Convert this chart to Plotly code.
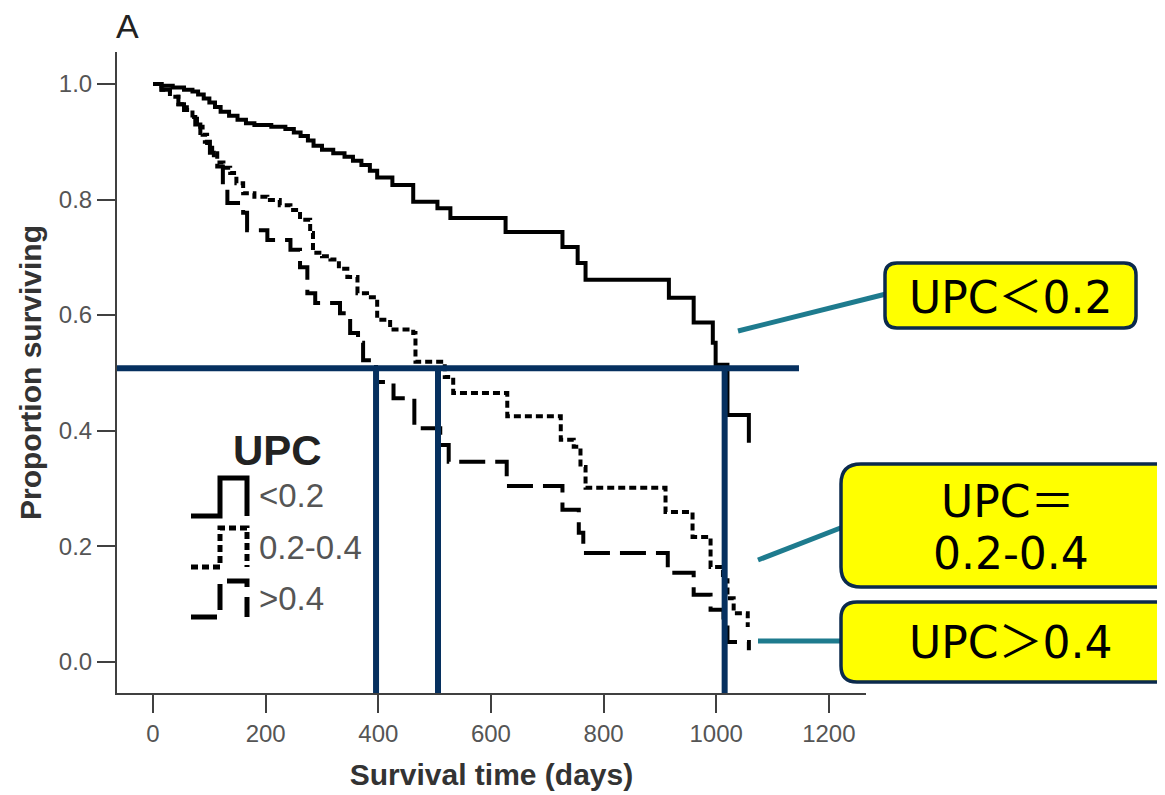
import plotly.graph_objects as go

# ---------------- data ----------------
t_low = [0, 15, 35, 55, 70, 80, 90, 100, 110, 120, 135, 150, 165, 180, 210, 235, 250, 262, 275, 285,
         300, 320, 340, 355, 370, 385, 398, 425, 462, 505, 528, 626, 727, 754, 768, 916, 960, 994,
         999, 1020, 1058]
s_low = [1.0, 0.997, 0.994, 0.99, 0.987, 0.982, 0.975, 0.968, 0.96, 0.952, 0.945, 0.938, 0.932, 0.929,
         0.926, 0.922, 0.916, 0.91, 0.902, 0.893, 0.886, 0.88, 0.874, 0.867, 0.86, 0.85, 0.838, 0.825,
         0.796, 0.785, 0.768, 0.744, 0.718, 0.69, 0.661, 0.63, 0.587, 0.552, 0.514, 0.427, 0.379]

t_mid = [0, 15, 30, 45, 60, 70, 78, 88, 96, 105, 114, 125, 137, 148, 160, 180, 203, 225, 244, 261,
         279, 284, 300, 315, 330, 345, 363, 380, 398, 421, 462, 466, 518, 533, 629, 724, 747, 759,
         768, 910, 958, 990, 1012, 1020, 1031, 1056]
s_mid = [1.0, 0.99, 0.978, 0.965, 0.955, 0.94, 0.926, 0.912, 0.898, 0.88, 0.864, 0.855, 0.846, 0.828,
         0.811, 0.805, 0.799, 0.79, 0.782, 0.765, 0.742, 0.708, 0.702, 0.696, 0.68, 0.666, 0.638,
         0.631, 0.592, 0.575, 0.569, 0.519, 0.493, 0.465, 0.425, 0.384, 0.372, 0.337, 0.301, 0.259,
         0.216, 0.164, 0.141, 0.11, 0.084, 0.06]

t_high = [0, 15, 30, 45, 55, 66, 75, 84, 92, 101, 108, 114, 124, 132, 160, 167, 203, 244, 261, 274,
          288, 332, 350, 364, 373, 396, 427, 464, 510, 525, 628, 727, 756, 764, 914, 960, 990, 1013,
          1020, 1058]
s_high = [1.0, 0.99, 0.978, 0.965, 0.955, 0.943, 0.93, 0.915, 0.9, 0.881, 0.87, 0.857, 0.822, 0.794,
          0.777, 0.747, 0.730, 0.713, 0.683, 0.638, 0.621, 0.603, 0.569, 0.552, 0.522, 0.484, 0.456,
          0.404, 0.375, 0.346, 0.304, 0.263, 0.223, 0.188, 0.154, 0.116, 0.09, 0.067, 0.034, 0.02]

median_level = 0.508
median_times = [396, 506, 1015]
median_line_end = 1147

x_ticks = [0, 200, 400, 600, 800, 1000, 1200]
y_ticks = [0.0, 0.2, 0.4, 0.6, 0.8, 1.0]
legend_labels = ["<0.2", "0.2-0.4", ">0.4"]
box_labels = ["UPC\uff1c0.2", "UPC\uff1d", "0.2-0.4", "UPC\uff1e0.4"]

# ---------------- layout geometry ----------------
OFF = 8  # page body margin of the browser
W, H = 1165 - OFF, 795 - OFF
L, R, T, B = 117 - OFF, 866 - OFF, 52 - OFF, 693 - OFF
XR = [-64, 1266]
YR = [-0.0542, 1.0554]


def pp(px, py):
    # reference-image pixel -> paper coordinates
    px -= OFF
    py -= OFF
    return (px - L) / (R - L), (B - py) / (B - T)


def rrect(x0, y0, x1, y1, r):
    pts = [("M", x0 + r, y0), ("L", x1 - r, y0), ("Q", x1, y0, x1, y0 + r), ("L", x1, y1 - r),
           ("Q", x1, y1, x1 - r, y1), ("L", x0 + r, y1), ("Q", x0, y1, x0, y1 - r), ("L", x0, y0 + r),
           ("Q", x0, y0, x0 + r, y0)]
    s = ""
    for p in pts:
        cmd = p[0]
        coords = p[1:]
        parts = []
        for i in range(0, len(coords), 2):
            a, b = pp(coords[i], coords[i + 1])
            parts.append(f"{a:.5f},{b:.5f}")
        s += cmd + " " + " ".join(parts) + " "
    return s + "Z"


def poly(points):
    s = ""
    for i, (x, y) in enumerate(points):
        a, b = pp(x, y)
        s += ("M " if i == 0 else "L ") + f"{a:.5f},{b:.5f} "
    return s


fig = go.Figure()
line_w = 4
fig.add_trace(go.Scatter(x=t_low, y=s_low, mode="lines", line=dict(color="black", width=line_w, shape="hv"),
                         name="<0.2"))
fig.add_trace(go.Scatter(x=t_mid, y=s_mid, mode="lines",
                         line=dict(color="black", width=line_w, shape="hv", dash="7px,4px"), name="0.2-0.4"))
fig.add_trace(go.Scatter(x=t_high, y=s_high, mode="lines",
                         line=dict(color="black", width=line_w, shape="hv", dash="26px,10px"), name=">0.4"))

shapes = []
navy = "#06305f"
teal = "#1e7b8e"
# median reference lines
shapes.append(dict(type="line", xref="x", yref="y", x0=XR[0], x1=median_line_end, y0=median_level,
                   y1=median_level, line=dict(color=navy, width=6), layer="above"))
for mt in median_times:
    shapes.append(dict(type="line", xref="x", yref="y", x0=mt, x1=mt, y0=YR[0], y1=median_level,
                       line=dict(color=navy, width=6), layer="above"))

# connector lines
for (a, b, c, d) in [(738, 331, 886, 294), (758, 560, 843, 527), (758, 641, 842, 641)]:
    x0, y0 = pp(a, b)
    x1, y1 = pp(c, d)
    shapes.append(dict(type="line", xref="paper", yref="paper", x0=x0, y0=y0, x1=x1, y1=y1,
                       line=dict(color=teal, width=5)))

# boxes
for (x0, y0, x1, y1, r) in [(885, 263, 1136, 328, 12), (841, 464, 1185, 587, 20), (841, 602, 1185, 682, 16)]:
    shapes.append(dict(type="path", xref="paper", yref="paper", path=rrect(x0, y0, x1, y1, r),
                       fillcolor="#ffff00", line=dict(color="#0b2a4c", width=3.5)))

# legend symbols
leg_dash = ["solid", "7px,4px", "26px,10px"]
leg_y = [(516, 478), (567, 528), (617, 581)]
for dsh, (yb, yt) in zip(leg_dash, leg_y):
    shapes.append(dict(type="path", xref="paper", yref="paper",
                       path=poly([(191, yb), (220, yb), (220, yt), (247, yt), (247, yb)]),
                       line=dict(color="black", width=5, dash=dsh)))

annotations = []
box_font = dict(family="DejaVu Sans, Noto Sans CJK JP", size=44, color="black")
for txt, (cx, cy) in zip(box_labels, [(1010, 297), (1007, 501), (1011, 553), (1010, 642)]):
    a, b = pp(cx, cy)
    annotations.append(dict(xref="paper", yref="paper", x=a, y=b, text=txt, showarrow=False,
                            xanchor="center", yanchor="middle", font=box_font))

a, b = pp(277, 450)
annotations.append(dict(xref="paper", yref="paper", x=a, y=b, text="<b>UPC</b>", showarrow=False,
                        xanchor="center", yanchor="middle",
                        font=dict(family="Liberation Sans, Arial", size=42, color="#222")))
for txt, cy in zip(legend_labels, [495, 547, 598]):
    a, b = pp(257, cy)
    annotations.append(dict(xref="paper", yref="paper", x=a, y=b, text=txt.replace("<", "&lt;").replace(">", "&gt;"),
                            showarrow=False, xanchor="left", yanchor="middle",
                            font=dict(family="Liberation Sans, Arial", size=33, color="#555")))

a, b = pp(127, 26)
annotations.append(dict(xref="paper", yref="paper", x=a, y=b, text="A", showarrow=False,
                        xanchor="center", yanchor="middle",
                        font=dict(family="Liberation Sans, Arial", size=34, color="#222")))

axis_common = dict(showline=True, linecolor="#404040", linewidth=2, ticks="outside", ticklen=18,
                   tickwidth=2, tickcolor="#404040", showgrid=False, zeroline=False,
                   tickfont=dict(family="Liberation Sans, Arial", size=24, color="#555"))

fig.update_layout(
    width=W, height=H,
    margin=dict(l=L, r=W - R, t=T, b=H - B, autoexpand=False),
    paper_bgcolor="white", plot_bgcolor="white",
    showlegend=False,
    shapes=shapes, annotations=annotations,
    xaxis=dict(range=XR, tickvals=x_ticks, ticktext=[str(v) for v in x_ticks],
               title=dict(text="<b>Survival time (days)</b>", standoff=18,
                          font=dict(family="Liberation Sans, Arial", size=30, color="#333")),
               **axis_common),
    yaxis=dict(range=YR, tickvals=y_ticks, ticktext=[f"{v:.1f}" for v in y_ticks],
               title=dict(text="<b>Proportion surviving</b>", standoff=8,
                          font=dict(family="Liberation Sans, Arial", size=30, color="#333")),
               **axis_common),
)

fig.write_html("out.html")
